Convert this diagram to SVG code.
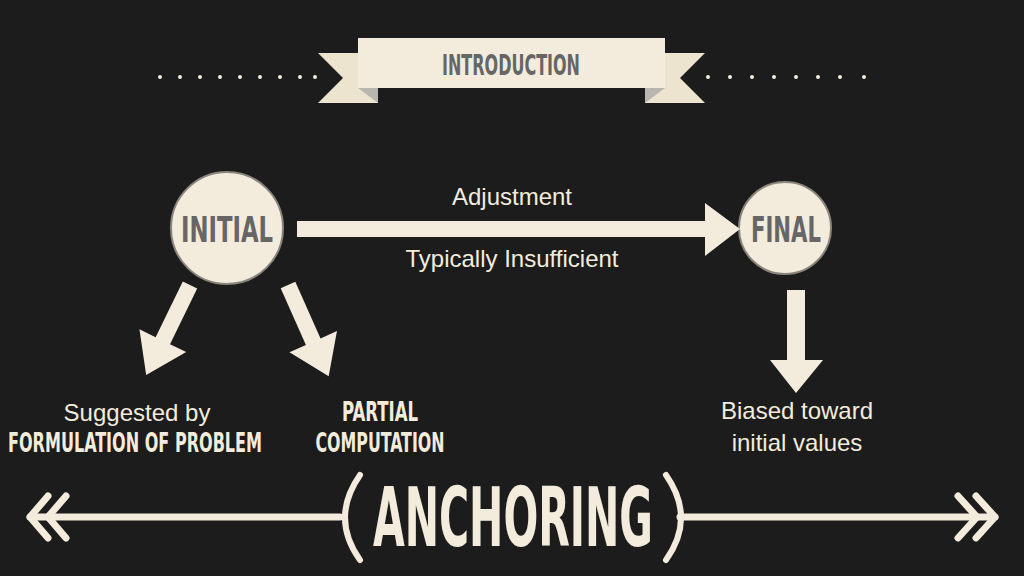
<svg xmlns="http://www.w3.org/2000/svg" width="1024" height="576" viewBox="0 0 1024 576">
<style>
.c{fill:#f3ecdc}
.d{font-family:"DejaVu Sans Condensed","DejaVu Sans",sans-serif;font-weight:bold;text-anchor:middle}
.s{font-family:"Liberation Sans",Arial,sans-serif;font-size:24px;fill:#f3ecdc;text-anchor:middle}
.ln{stroke:#f3ecdc;stroke-width:7;fill:none;stroke-linecap:round;stroke-linejoin:round}
</style>
<rect width="1024" height="576" fill="#1c1c1c"/>
<g id="ribbon">
<polygon points="318,53 378,53 378,103 318,103 343,78" fill="#ede4d0"/>
<polygon points="705,53 645,53 645,103 705,103 680,78" fill="#ede4d0"/>
<polygon points="358,88 378,103 378,88" fill="#b9b6b0"/>
<polygon points="665,88 645,103 645,88" fill="#b9b6b0"/>
<rect x="358" y="38" width="307" height="50" class="c"/>
<text x="511" y="75" class="d" font-size="28" fill="#666" textLength="138" lengthAdjust="spacingAndGlyphs">INTRODUCTION</text>
<g fill="#f3ecdc">
<circle cx="160" cy="77" r="2"/><circle cx="180" cy="77" r="2"/><circle cx="200" cy="77" r="2"/><circle cx="220" cy="77" r="2"/><circle cx="240" cy="77" r="2"/><circle cx="260" cy="77" r="2"/><circle cx="280" cy="77" r="2"/><circle cx="300" cy="77" r="2"/><circle cx="315" cy="77" r="2"/>
<circle cx="708" cy="77" r="2"/><circle cx="730" cy="77" r="2"/><circle cx="752" cy="77" r="2"/><circle cx="774" cy="77" r="2"/><circle cx="796" cy="77" r="2"/><circle cx="818" cy="77" r="2"/><circle cx="840" cy="77" r="2"/><circle cx="864" cy="77" r="2"/>
</g>
</g>
<g id="initial">
<circle cx="227" cy="228" r="56" class="c" stroke="#8a857c" stroke-width="2"/>
<text x="227" y="242" class="d" font-size="36" fill="#666" textLength="92" lengthAdjust="spacingAndGlyphs">INITIAL</text>
</g>
<g id="final">
<circle cx="785" cy="228" r="46" class="c" stroke="#8a857c" stroke-width="2"/>
<text x="786" y="242" class="d" font-size="36" fill="#666" textLength="70" lengthAdjust="spacingAndGlyphs">FINAL</text>
</g>
<g id="connectors" class="c">
<polygon points="297,221 705,221 705,203 740,229 705,256 705,237 297,237"/>
<polygon points="0,-8 62,-8 62,-26 100,0 62,26 62,8 0,8" transform="translate(190,285) rotate(116)"/>
<polygon points="0,-8 62,-8 62,-26 100,0 62,26 62,8 0,8" transform="translate(288,285) rotate(66)"/>
<polygon points="787,290 805,290 805,360 823,360 796,393 770,360 787,360"/>
</g>
<g id="labels">
<text x="512" y="205" class="s">Adjustment</text>
<text x="512" y="267" class="s">Typically Insufficient</text>
<text x="137" y="421" class="s">Suggested by</text>
<text x="135" y="452" class="d" font-size="26" fill="#f3ecdc" textLength="254" lengthAdjust="spacingAndGlyphs">FORMULATION OF PROBLEM</text>
<text x="380" y="421" class="d" font-size="26" fill="#f3ecdc" textLength="76" lengthAdjust="spacingAndGlyphs">PARTIAL</text>
<text x="380" y="452" class="d" font-size="26" fill="#f3ecdc" textLength="129" lengthAdjust="spacingAndGlyphs">COMPUTATION</text>
<text x="797" y="419" class="s">Biased toward</text>
<text x="797" y="451" class="s">initial values</text>
</g>
<g id="anchoring">
<path class="ln" d="M30,517 H340 M680,517 H995"/>
<path class="ln" d="M48,496 L30,517 L48,538 M66,496 L48,517 L66,538"/>
<path class="ln" d="M976,496 L995,517 L976,538 M958,496 L977,517 L958,538"/>
<path d="M360,475 Q330,518 360,560" stroke="#f3ecdc" stroke-width="6" fill="none" stroke-linecap="round"/>
<path d="M666,475 Q696,518 666,560" stroke="#f3ecdc" stroke-width="6" fill="none" stroke-linecap="round"/>
<text x="513" y="546" class="d" font-size="82" fill="#f3ecdc" textLength="280" lengthAdjust="spacingAndGlyphs">ANCHORING</text>
</g>
</svg>
